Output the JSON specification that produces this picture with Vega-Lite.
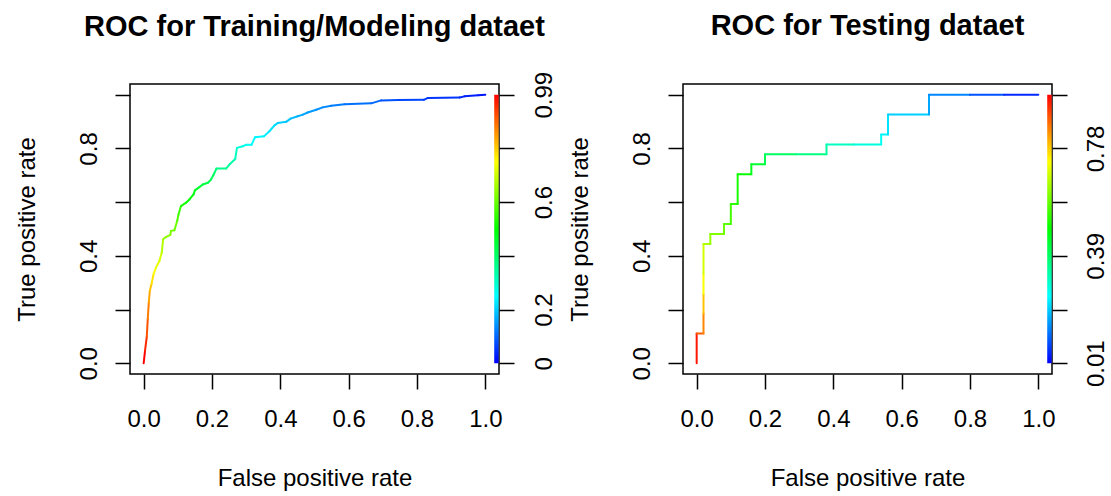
{
  "$schema": "https://vega.github.io/schema/vega-lite/v6.json",
  "padding": {"left": 14, "top": 11, "right": 0, "bottom": 0},
  "background": "white",
  "spacing": 184,
  "bounds": "flush",
  "config": {
    "font": "Liberation Sans",
    "view": {"stroke": "black", "strokeWidth": 1.5},
    "axis": {
      "domain": false,
      "grid": false,
      "tickColor": "black",
      "tickWidth": 1.5,
      "tickSize": 15,
      "labelColor": "black",
      "titleColor": "black",
      "labelFontSize": 24,
      "titleFontSize": 24,
      "titleFontWeight": "normal",
      "labelFont": "Liberation Sans",
      "titleFont": "Liberation Sans",
      "labelOverlap": false,
      "labelFlush": false
    },
    "title": {"font": "Liberation Sans", "fontSize": 29, "fontWeight": "bold", "color": "black"}
  },
  "datasets": {
    "train": [
      {"fpr": 0, "tpr": 0, "cutoff": 0.99},
      {"fpr": 0.004, "tpr": 0.047, "cutoff": 0.95},
      {"fpr": 0.009, "tpr": 0.097, "cutoff": 0.91},
      {"fpr": 0.012, "tpr": 0.165, "cutoff": 0.87},
      {"fpr": 0.015, "tpr": 0.226, "cutoff": 0.83},
      {"fpr": 0.018, "tpr": 0.27, "cutoff": 0.80},
      {"fpr": 0.023, "tpr": 0.295, "cutoff": 0.77},
      {"fpr": 0.029, "tpr": 0.332, "cutoff": 0.74},
      {"fpr": 0.036, "tpr": 0.356, "cutoff": 0.72},
      {"fpr": 0.046, "tpr": 0.381, "cutoff": 0.70},
      {"fpr": 0.053, "tpr": 0.412, "cutoff": 0.67},
      {"fpr": 0.057, "tpr": 0.462, "cutoff": 0.64},
      {"fpr": 0.065, "tpr": 0.47, "cutoff": 0.63},
      {"fpr": 0.078, "tpr": 0.478, "cutoff": 0.62},
      {"fpr": 0.08, "tpr": 0.493, "cutoff": 0.61},
      {"fpr": 0.09, "tpr": 0.495, "cutoff": 0.60},
      {"fpr": 0.098, "tpr": 0.53, "cutoff": 0.57},
      {"fpr": 0.102, "tpr": 0.554, "cutoff": 0.55},
      {"fpr": 0.109, "tpr": 0.585, "cutoff": 0.52},
      {"fpr": 0.124, "tpr": 0.598, "cutoff": 0.50},
      {"fpr": 0.134, "tpr": 0.61, "cutoff": 0.49},
      {"fpr": 0.146, "tpr": 0.629, "cutoff": 0.47},
      {"fpr": 0.15, "tpr": 0.644, "cutoff": 0.46},
      {"fpr": 0.163, "tpr": 0.656, "cutoff": 0.44},
      {"fpr": 0.173, "tpr": 0.666, "cutoff": 0.43},
      {"fpr": 0.188, "tpr": 0.672, "cutoff": 0.42},
      {"fpr": 0.197, "tpr": 0.684, "cutoff": 0.41},
      {"fpr": 0.205, "tpr": 0.703, "cutoff": 0.39},
      {"fpr": 0.213, "tpr": 0.725, "cutoff": 0.36},
      {"fpr": 0.241, "tpr": 0.725, "cutoff": 0.35},
      {"fpr": 0.251, "tpr": 0.74, "cutoff": 0.33},
      {"fpr": 0.268, "tpr": 0.761, "cutoff": 0.31},
      {"fpr": 0.273, "tpr": 0.802, "cutoff": 0.28},
      {"fpr": 0.29, "tpr": 0.808, "cutoff": 0.27},
      {"fpr": 0.30, "tpr": 0.814, "cutoff": 0.26},
      {"fpr": 0.316, "tpr": 0.814, "cutoff": 0.25},
      {"fpr": 0.326, "tpr": 0.842, "cutoff": 0.24},
      {"fpr": 0.352, "tpr": 0.845, "cutoff": 0.23},
      {"fpr": 0.368, "tpr": 0.864, "cutoff": 0.22},
      {"fpr": 0.383, "tpr": 0.886, "cutoff": 0.21},
      {"fpr": 0.393, "tpr": 0.895, "cutoff": 0.20},
      {"fpr": 0.417, "tpr": 0.899, "cutoff": 0.19},
      {"fpr": 0.43, "tpr": 0.911, "cutoff": 0.18},
      {"fpr": 0.451, "tpr": 0.92, "cutoff": 0.17},
      {"fpr": 0.466, "tpr": 0.926, "cutoff": 0.16},
      {"fpr": 0.48, "tpr": 0.934, "cutoff": 0.15},
      {"fpr": 0.505, "tpr": 0.944, "cutoff": 0.14},
      {"fpr": 0.524, "tpr": 0.953, "cutoff": 0.13},
      {"fpr": 0.549, "tpr": 0.959, "cutoff": 0.12},
      {"fpr": 0.588, "tpr": 0.965, "cutoff": 0.11},
      {"fpr": 0.666, "tpr": 0.968, "cutoff": 0.10},
      {"fpr": 0.695, "tpr": 0.979, "cutoff": 0.08},
      {"fpr": 0.744, "tpr": 0.98, "cutoff": 0.07},
      {"fpr": 0.82, "tpr": 0.981, "cutoff": 0.06},
      {"fpr": 0.832, "tpr": 0.988, "cutoff": 0.05},
      {"fpr": 0.925, "tpr": 0.99, "cutoff": 0.04},
      {"fpr": 0.939, "tpr": 0.994, "cutoff": 0.03},
      {"fpr": 0.979, "tpr": 0.998, "cutoff": 0.02},
      {"fpr": 1, "tpr": 1, "cutoff": 0}
    ],
    "test": [
      {"fpr": 0, "tpr": 0, "cutoff": 0.97},
      {"fpr": 0, "tpr": 0.111, "cutoff": 0.90},
      {"fpr": 0.02, "tpr": 0.111, "cutoff": 0.86},
      {"fpr": 0.02, "tpr": 0.185, "cutoff": 0.80},
      {"fpr": 0.02, "tpr": 0.259, "cutoff": 0.74},
      {"fpr": 0.02, "tpr": 0.333, "cutoff": 0.70},
      {"fpr": 0.02, "tpr": 0.444, "cutoff": 0.66},
      {"fpr": 0.04, "tpr": 0.444, "cutoff": 0.64},
      {"fpr": 0.04, "tpr": 0.481, "cutoff": 0.62},
      {"fpr": 0.08, "tpr": 0.481, "cutoff": 0.60},
      {"fpr": 0.08, "tpr": 0.519, "cutoff": 0.58},
      {"fpr": 0.10, "tpr": 0.519, "cutoff": 0.56},
      {"fpr": 0.10, "tpr": 0.593, "cutoff": 0.54},
      {"fpr": 0.12, "tpr": 0.593, "cutoff": 0.52},
      {"fpr": 0.12, "tpr": 0.704, "cutoff": 0.50},
      {"fpr": 0.16, "tpr": 0.704, "cutoff": 0.47},
      {"fpr": 0.16, "tpr": 0.741, "cutoff": 0.45},
      {"fpr": 0.20, "tpr": 0.741, "cutoff": 0.42},
      {"fpr": 0.20, "tpr": 0.778, "cutoff": 0.40},
      {"fpr": 0.29, "tpr": 0.778, "cutoff": 0.37},
      {"fpr": 0.38, "tpr": 0.778, "cutoff": 0.34},
      {"fpr": 0.38, "tpr": 0.815, "cutoff": 0.31},
      {"fpr": 0.46, "tpr": 0.815, "cutoff": 0.28},
      {"fpr": 0.54, "tpr": 0.815, "cutoff": 0.26},
      {"fpr": 0.54, "tpr": 0.852, "cutoff": 0.24},
      {"fpr": 0.56, "tpr": 0.852, "cutoff": 0.22},
      {"fpr": 0.56, "tpr": 0.926, "cutoff": 0.20},
      {"fpr": 0.68, "tpr": 0.926, "cutoff": 0.16},
      {"fpr": 0.68, "tpr": 1.0, "cutoff": 0.13},
      {"fpr": 0.80, "tpr": 1.0, "cutoff": 0.08},
      {"fpr": 0.90, "tpr": 1.0, "cutoff": 0.04},
      {"fpr": 1.0, "tpr": 1.0, "cutoff": 0.01}
    ]
  },
  "hconcat": [
    {
      "width": 369,
      "height": 290,
      "data": {"name": "train"},
      "title": {"text": "ROC for Training/Modeling dataet", "frame": "group", "anchor": "middle", "baseline": "alphabetic", "offset": 6},
      "layer": [
        {
          "transform": [
            {"window": [{"op": "lead", "field": "fpr", "as": "fpr2"}, {"op": "lead", "field": "tpr", "as": "tpr2"}], "sort": [{"field": "fpr"}, {"field": "tpr"}]},
            {"filter": "datum.fpr2 != null"}
          ],
          "mark": {"type": "rule", "strokeWidth": 2, "strokeCap": "round"},
          "encoding": {
            "x": {"field": "fpr", "type": "quantitative",
              "scale": {"domain": [-0.04, 1.04], "nice": false, "zero": false},
              "axis": {"values": [0, 0.2, 0.4, 0.6, 0.8, 1], "format": ".1f", "labelBaseline": "alphabetic", "labelPadding": 37.5, "title": "False positive rate", "titleBaseline": "alphabetic", "titleY": 111, "titleX": 184.5}},
            "y": {"field": "tpr", "type": "quantitative",
              "scale": {"domain": [-0.04, 1.04], "nice": false, "zero": false},
              "axis": {"values": [0, 0.2, 0.4, 0.6, 0.8, 1], "labelExpr": "(abs(datum.value-0.2)<0.01 || abs(datum.value-0.6)<0.01 || datum.value>0.99) ? '' : format(datum.value, '.1f')", "labelAngle": -90, "labelAlign": "center", "labelBaseline": "alphabetic", "labelPadding": 18.3, "title": "True positive rate", "titleAngle": -90, "titleBaseline": "alphabetic", "titleAlign": "center", "titleX": -96, "titleY": 145}},
            "x2": {"field": "fpr2"},
            "y2": {"field": "tpr2"},
            "color": {"field": "cutoff", "type": "quantitative", "legend": null,
              "scale": {"domain": [0, 0.2475, 0.495, 0.7425, 0.99], "range": ["#0000FF", "#00FFFF", "#00FF00", "#FFFF00", "#FF0000"], "interpolate": "rgb"}}
          }
        },
        {
          "mark": {"type": "rect", "color": {"gradient": "linear", "x1": 0, "y1": 1, "x2": 0, "y2": 0, "stops": [{"offset": 0, "color": "#0000FF"}, {"offset": 0.25, "color": "#00FFFF"}, {"offset": 0.5, "color": "#00FF00"}, {"offset": 0.75, "color": "#FFFF00"}, {"offset": 1, "color": "#FF0000"}]}},
          "encoding": {
            "x": {"datum": 1.026},
            "x2": {"datum": 1.039},
            "y": {"aggregate": "min", "field": "cutoff", "type": "quantitative",
              "scale": {"domain": [-0.0396, 1.0296], "nice": false, "zero": false},
              "axis": {"orient": "right", "values": [0, 0.198, 0.396, 0.594, 0.792, 0.99], "labelExpr": "datum.value < 0.01 ? '0' : abs(datum.value-0.198)<0.01 ? '0.2' : abs(datum.value-0.594)<0.01 ? '0.6' : abs(datum.value-0.99)<0.01 ? '0.99' : ''", "labelAngle": -90, "labelAlign": "center", "labelBaseline": "alphabetic", "labelPadding": 37.5, "title": null}},
            "y2": {"aggregate": "max", "field": "cutoff"}
          }
        }
      ],
      "resolve": {"scale": {"y": "independent"}}
    },
    {
      "width": 369,
      "height": 290,
      "data": {"name": "test"},
      "title": {"text": "ROC for Testing dataet", "frame": "group", "anchor": "middle", "baseline": "alphabetic", "offset": 20},
      "layer": [
        {
          "transform": [
            {"window": [{"op": "lead", "field": "fpr", "as": "fpr2"}, {"op": "lead", "field": "tpr", "as": "tpr2"}], "sort": [{"field": "fpr"}, {"field": "tpr"}]},
            {"filter": "datum.fpr2 != null"}
          ],
          "mark": {"type": "rule", "strokeWidth": 2, "strokeCap": "round"},
          "encoding": {
            "x": {"field": "fpr", "type": "quantitative",
              "scale": {"domain": [-0.04, 1.04], "nice": false, "zero": false},
              "axis": {"values": [0, 0.2, 0.4, 0.6, 0.8, 1], "format": ".1f", "labelBaseline": "alphabetic", "labelPadding": 37.5, "title": "False positive rate", "titleBaseline": "alphabetic", "titleY": 111, "titleX": 184.5}},
            "y": {"field": "tpr", "type": "quantitative",
              "scale": {"domain": [-0.04, 1.04], "nice": false, "zero": false},
              "axis": {"values": [0, 0.2, 0.4, 0.6, 0.8, 1], "labelExpr": "(abs(datum.value-0.2)<0.01 || abs(datum.value-0.6)<0.01 || datum.value>0.99) ? '' : format(datum.value, '.1f')", "labelAngle": -90, "labelAlign": "center", "labelBaseline": "alphabetic", "labelPadding": 18.3, "title": "True positive rate", "titleAngle": -90, "titleBaseline": "alphabetic", "titleAlign": "center", "titleX": -96, "titleY": 145}},
            "x2": {"field": "fpr2"},
            "y2": {"field": "tpr2"},
            "color": {"field": "cutoff", "type": "quantitative", "legend": null,
              "scale": {"domain": [0.01, 0.25, 0.49, 0.73, 0.97], "range": ["#0000FF", "#00FFFF", "#00FF00", "#FFFF00", "#FF0000"], "interpolate": "rgb"}}
          }
        },
        {
          "mark": {"type": "rect", "color": {"gradient": "linear", "x1": 0, "y1": 1, "x2": 0, "y2": 0, "stops": [{"offset": 0, "color": "#0000FF"}, {"offset": 0.25, "color": "#00FFFF"}, {"offset": 0.5, "color": "#00FF00"}, {"offset": 0.75, "color": "#FFFF00"}, {"offset": 1, "color": "#FF0000"}]}},
          "encoding": {
            "x": {"datum": 1.026},
            "x2": {"datum": 1.039},
            "y": {"aggregate": "min", "field": "cutoff", "type": "quantitative",
              "scale": {"domain": [-0.0284, 1.0084], "nice": false, "zero": false},
              "axis": {"orient": "right", "values": [0.01, 0.202, 0.394, 0.586, 0.778, 0.97], "labelExpr": "abs(datum.value-0.01)<0.005 ? '0.01' : abs(datum.value-0.394)<0.01 ? '0.39' : abs(datum.value-0.778)<0.01 ? '0.78' : ''", "labelAngle": -90, "labelAlign": "center", "labelBaseline": "alphabetic", "labelPadding": 36.5, "title": null}},
            "y2": {"aggregate": "max", "field": "cutoff"}
          }
        }
      ],
      "resolve": {"scale": {"y": "independent"}}
    }
  ]
}
